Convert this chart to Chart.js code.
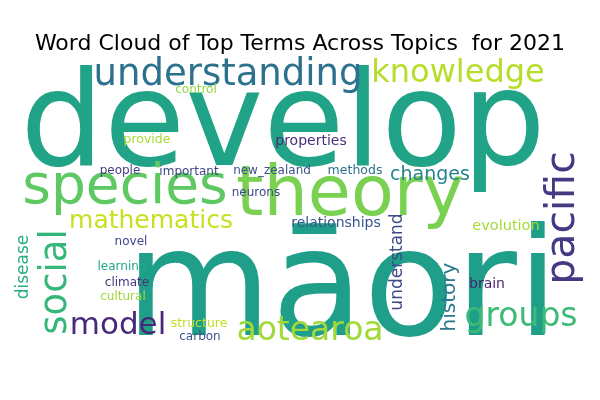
<!DOCTYPE html>
<html>
<head>
<meta charset="utf-8">
<script src="https://cdn.jsdelivr.net/npm/chart.js@4"></script>
<style>
  html, body { margin: 0; padding: 0; background: #fff; }
  #wrap { width: 600px; height: 400px; }
</style>
</head>
<body>
<div id="wrap"><canvas id="cloud"></canvas></div>
<script>
// words and their weight (font size in px, as drawn by the cloud layout)
const words = ['develop', 'māori', 'species', 'theory', 'understanding', 'knowledge',
  'pacific', 'groups', 'model', 'aotearoa', 'mathematics', 'social', 'disease',
  'changes', 'understand', 'history', 'evolution', 'brain', 'relationships',
  'properties', 'methods', 'new_zealand', 'neurons', 'important', 'people',
  'provide', 'control', 'novel', 'learning', 'climate', 'cultural', 'structure', 'carbon'];
const weights = [132, 150, 55, 70, 37, 32, 41, 33, 31, 33, 25, 37, 17,
  19, 17, 20, 14.5, 14, 14, 14, 12.5, 12, 12, 12, 12,
  12.5, 12, 12, 12, 12, 12, 12.5, 12];
// layout position of each word (horizontal: baseline, vertical: centre)
const posX = [283, 342, 125, 350, 228, 458, 563, 521, 118, 310, 151, 56, 24,
  430, 398, 450, 506, 487, 336, 311, 355, 272, 256, 189, 120,
  147, 196, 131, 122, 127, 123, 199, 200];
const posY = [165, 335, 203, 215, 85, 82, 218, 326, 334, 340, 228, 282, 267,
  180, 262, 297, 230, 288, 227, 145, 174, 174, 196, 175, 174,
  143, 93, 245, 270, 286, 300, 327, 340];
const vertical = [0, 0, 0, 0, 0, 0, 1, 0, 0, 0, 0, 1, 1,
  0, 1, 1, 0, 0, 0, 0, 0, 0, 0, 0, 0,
  0, 0, 0, 0, 0, 0, 0, 0];
const colors = ['#20a386', '#1f9e89', '#5ec962', '#7ad151', '#2c728e', '#b5de2b',
  '#443983', '#3bbb75', '#482878', '#a0da39', '#c8e020', '#35b779', '#29af7f',
  '#25848e', '#3e4a89', '#2a788e', '#a5db36', '#481f70', '#39568c',
  '#472d7b', '#2d708e', '#3b528b', '#3e4989', '#404688', '#433e85',
  '#a8db34', '#8fd744', '#3f4788', '#22a884', '#46337e', '#9dd93b', '#c2df23', '#3b528b'];

const FONT = '"DejaVu Sans", sans-serif';

const wordPlugin = {
  id: 'words',
  afterDatasetsDraw(chart) {
    const ctx = chart.ctx;
    const meta = chart.getDatasetMeta(0);
    ctx.save();
    ctx.fillStyle = '#000';
    ctx.font = '22px ' + FONT;
    ctx.textAlign = 'center';
    ctx.textBaseline = 'alphabetic';
    ctx.fillText('Word Cloud of Top Terms Across Topics  for 2021', 300, 50);
    meta.data.forEach((pt, i) => {
      ctx.save();
      ctx.translate(pt.x, pt.y);
      ctx.font = weights[i] + 'px ' + FONT;
      ctx.fillStyle = colors[i];
      ctx.textAlign = 'center';
      if (vertical[i]) {
        ctx.rotate(-Math.PI / 2);
        ctx.textBaseline = 'middle';
      } else {
        ctx.textBaseline = 'alphabetic';
      }
      ctx.fillText(words[i], 0, 0);
      ctx.restore();
    });
    ctx.restore();
  }
};

new Chart(document.getElementById('cloud'), {
  type: 'scatter',
  data: {
    datasets: [{
      data: words.map((w, i) => ({ x: posX[i], y: posY[i] })),
      pointRadius: 0,
      pointHoverRadius: 0
    }]
  },
  options: {
    responsive: true,
    maintainAspectRatio: false,
    animation: false,
    layout: { padding: 0 },
    scales: {
      x: { display: false, min: 0, max: 600 },
      y: { display: false, min: 0, max: 400, reverse: true }
    },
    plugins: { legend: { display: false }, tooltip: { enabled: false } }
  },
  plugins: [wordPlugin]
});
</script>
</body>
</html>
